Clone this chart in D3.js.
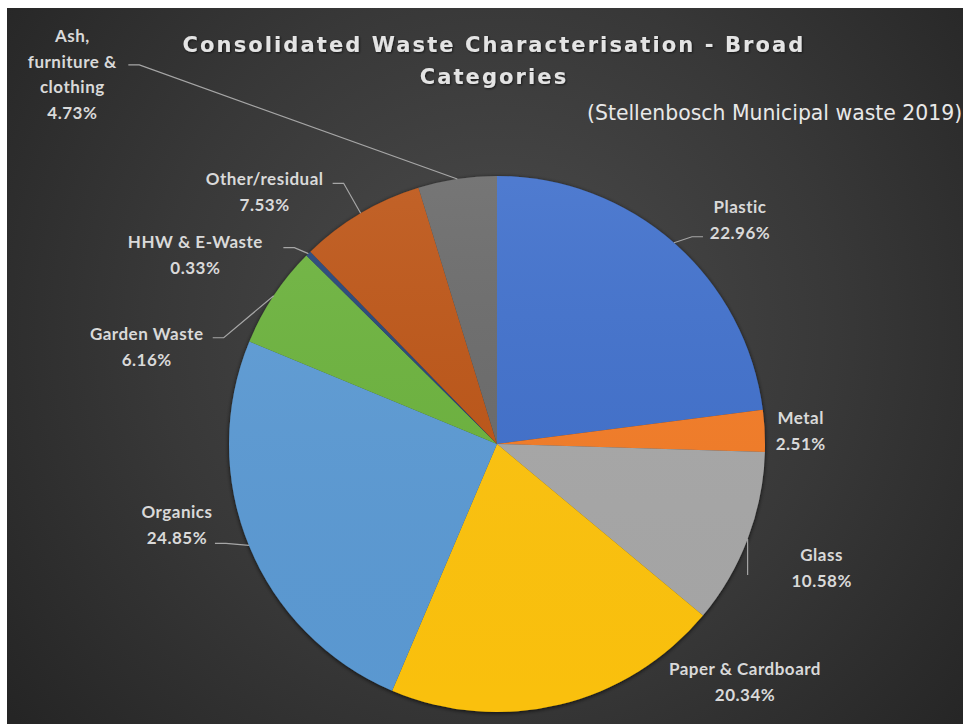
<!DOCTYPE html>
<html>
<head>
<meta charset="utf-8">
<script src="https://cdn.jsdelivr.net/npm/d3@7"></script>
<style>
  html, body { margin: 0; padding: 0; background: #ffffff; }
  svg { display: block; }
</style>
</head>
<body>
<div id="pie"></div>
<script>
// data
const categories = ['Plastic', 'Metal', 'Glass', 'Paper & Cardboard', 'Organics',
  'Garden Waste', 'HHW & E-Waste', 'Other/residual', 'Ash, furniture & clothing'];
const shares = [22.96, 2.51, 10.58, 20.34, 24.85, 6.16, 0.33, 7.53, 4.73];
const titleLines = ['Consolidated Waste Characterisation - Broad', 'Categories'];
const subtitle = '(Stellenbosch Municipal waste 2019)';

// how a long name breaks in its label
const labelBreaks = {'Ash, furniture & clothing': ['Ash,', 'furniture &', 'clothing']};

const palette = ['#3f70cc', '#f47b28', '#a8a8a8', '#ffc408', '#5b9bd5',
  '#6cb33e', '#264478', '#bd5414', '#6a6a6a'];

// label centre offset from the slice's outer edge, and leader end from the label centre
const labelOffset = [[66, -23], [36, 0], [74, 29], [185, -23], [-72, -21],
  [-127, 51], [-113, 1], [-96, -22], [-385, -105]];
const leaderEnd = [[-37, 17], null, [-74, 7], null, [38, 19],
  [66, -9], [88, -7], [68, -8], [56, -9]];

const width = 963;
const height = 724;
const radius = 268;
const cx = 497, cy = 444;

const div = d3.select('#pie');
const svg = div.append('svg')
  .attr('width', width)
  .attr('height', height);

const defs = svg.append('defs');

const bg = defs.append('radialGradient')
  .attr('id', 'bg')
  .attr('gradientUnits', 'userSpaceOnUse')
  .attr('cx', 497).attr('cy', 330).attr('r', 620);
bg.append('stop').attr('offset', 0).attr('stop-color', '#4c4c4c');
bg.append('stop').attr('offset', 0.55).attr('stop-color', '#383838');
bg.append('stop').attr('offset', 1).attr('stop-color', '#252525');

const sheen = defs.append('linearGradient')
  .attr('id', 'sheen')
  .attr('x1', 0).attr('y1', 0).attr('x2', 0).attr('y2', 1);
sheen.append('stop').attr('offset', 0).attr('stop-color', '#ffffff').attr('stop-opacity', 0.08);
sheen.append('stop').attr('offset', 1).attr('stop-color', '#000000').attr('stop-opacity', 0.02);

const shadow = defs.append('filter')
  .attr('id', 'shadow')
  .attr('x', -0.1).attr('y', -0.1).attr('width', 1.2).attr('height', 1.2);
shadow.append('feDropShadow')
  .attr('dx', 0).attr('dy', 1).attr('stdDeviation', 2.2)
  .attr('flood-color', '#000').attr('flood-opacity', 0.75);

const glow = defs.append('filter').attr('id', 'glow');
glow.append('feDropShadow')
  .attr('dx', 1).attr('dy', 1).attr('stdDeviation', 1)
  .attr('flood-color', '#000').attr('flood-opacity', 0.6);

svg.append('rect')
  .attr('x', 7).attr('y', 8)
  .attr('width', width - 7).attr('height', height - 8)
  .attr('fill', 'url(#bg)');

// title
svg.append('g')
  .selectAll('text')
  .data(titleLines)
  .join('text')
  .attr('x', 494)
  .attr('y', (d, i) => 52 + i * 32)
  .attr('text-anchor', 'middle')
  .attr('font-family', 'DejaVu Sans')
  .attr('font-weight', 'bold')
  .attr('font-size', 21)
  .attr('letter-spacing', 2.1)
  .attr('fill', '#e4e4e4')
  .attr('filter', 'url(#glow)')
  .text(d => d);

svg.append('text')
  .attr('x', 587)
  .attr('y', 120)
  .attr('font-family', 'DejaVu Sans')
  .attr('font-size', 20.4)
  .attr('fill', '#e8e8e8')
  .text(subtitle);

// pie
const color = d3.scaleOrdinal().domain(categories).range(palette);

const pie = d3.pie().sort(null).value(d => d.share);
const data = categories.map((c, i) => ({name: c, share: shares[i], i}));
const arcs = pie(data);

const arc = d3.arc().innerRadius(0).outerRadius(radius);
const edgeArc = d3.arc().innerRadius(radius).outerRadius(radius);

const g = svg.append('g')
  .attr('transform', `translate(${cx}, ${cy})`);

const slices = g.append('g').attr('filter', 'url(#shadow)');
slices.selectAll('path')
  .data(arcs)
  .join('path')
  .attr('d', arc)
  .attr('fill', d => color(d.data.name));

g.append('circle')
  .attr('r', radius)
  .attr('fill', 'url(#sheen)');

// labels and leader lines
const fmt = d3.format('.2f');

arcs.forEach((d, i) => {
  const [ex, ey] = edgeArc.centroid(d);
  const lx = ex + labelOffset[i][0];
  const ly = ey + labelOffset[i][1];
  const lines = (labelBreaks[d.data.name] || [d.data.name]).concat(fmt(d.data.share) + '%');
  const lh = lines.length > 2 ? 25.5 : 26;

  if (leaderEnd[i]) {
    const endX = lx + leaderEnd[i][0];
    const endY = ly + leaderEnd[i][1];
    const dir = Math.sign(ex - endX) * (Math.abs(ex - endX) > 2 ? 1 : 0);
    const pts = [[ex, ey], [endX + dir * 11, endY], [endX, endY]];
    g.append('path')
      .attr('d', d3.line()(pts))
      .attr('fill', 'none')
      .attr('stroke', '#a6a6a6')
      .attr('stroke-width', 1.2);
  }

  g.append('g')
    .selectAll('text')
    .data(lines)
    .join('text')
    .attr('x', lx)
    .attr('y', (t, k) => ly + (k - (lines.length - 1) / 2) * lh)
    .attr('text-anchor', 'middle')
    .attr('dominant-baseline', 'central')
    .attr('font-family', 'Lato')
    .attr('font-weight', 'bold')
    .attr('font-size', 17)
    .attr('letter-spacing', 0.5)
    .attr('fill', '#d9d9d9')
    .text(t => t);
});
</script>
</body>
</html>
